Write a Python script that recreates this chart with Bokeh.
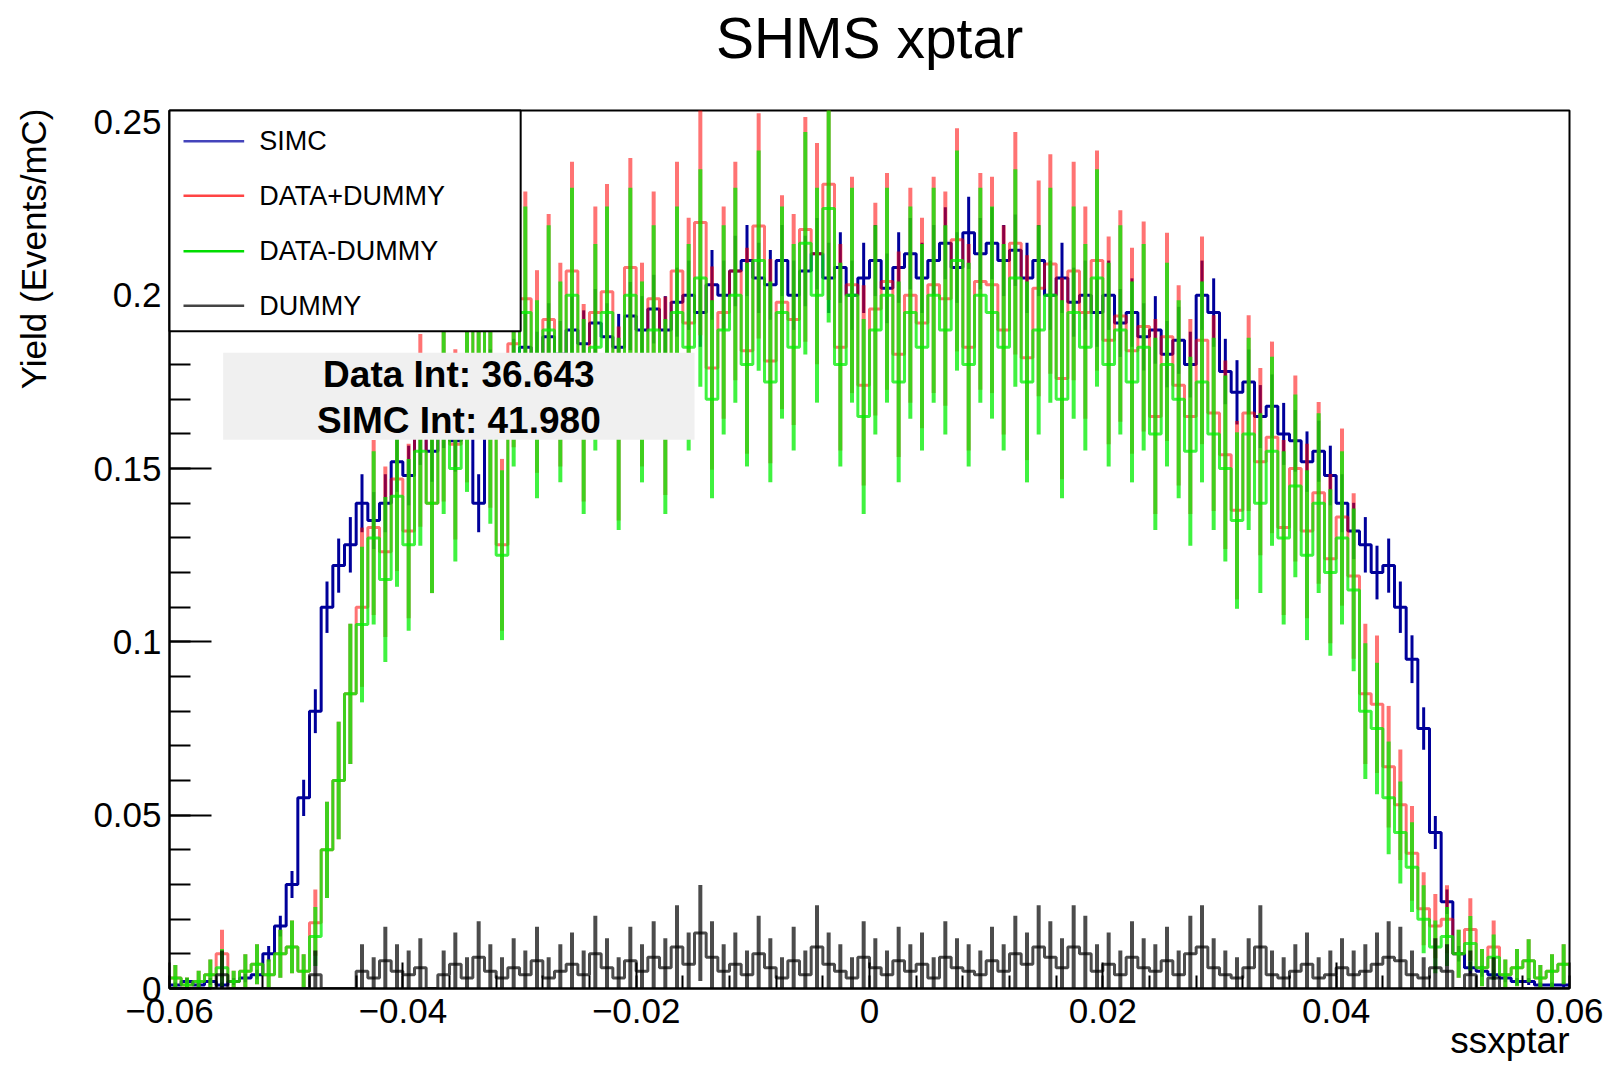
import numpy as np
from bokeh.plotting import figure
from bokeh.layouts import column, row
from bokeh.models import CustomJSTickFormatter, Range1d, FixedTicker, Title
from bokeh.embed import file_html
from bokeh.resources import INLINE
from bokeh.core.properties import value

FONT = "Liberation Sans"

# ---------------- data (bin width 0.001) ----------------
x_lo, x_hi, n_bins = -0.06, 0.06, 120

simc = [0.001, 0.002, 0.001, 0.002, 0.001, 0.002, 0.003, 0.004, 0.010, 0.018,
        0.030, 0.055, 0.080, 0.110, 0.122, 0.128, 0.140, 0.135, 0.140, 0.152,
        0.148, 0.160, 0.155, 0.165, 0.158, 0.170, 0.140, 0.175, 0.172, 0.178,
        0.185, 0.180, 0.188, 0.183, 0.190, 0.186, 0.192, 0.188, 0.185, 0.194,
        0.190, 0.196, 0.190, 0.198, 0.200, 0.195, 0.203, 0.200, 0.207, 0.210,
        0.205, 0.203, 0.210, 0.200, 0.207, 0.212, 0.205, 0.208, 0.200, 0.205,
        0.210, 0.202, 0.208, 0.212, 0.205, 0.210, 0.215, 0.208, 0.218, 0.212,
        0.215, 0.210, 0.213, 0.205, 0.210, 0.200, 0.205, 0.198, 0.200, 0.195,
        0.200, 0.192, 0.195, 0.188, 0.190, 0.183, 0.187, 0.180, 0.200, 0.195,
        0.178, 0.172, 0.175, 0.165, 0.168, 0.160, 0.158, 0.152, 0.155, 0.148,
        0.140, 0.132, 0.128, 0.120, 0.122, 0.110, 0.095, 0.075, 0.045, 0.025,
        0.010, 0.006, 0.005, 0.004, 0.003, 0.002, 0.002, 0.001, 0.001, 0.001]

data_minus_dummy = [0.003, 0.001, 0.002, 0.004, 0.006, 0.002, 0.005, 0.007, 0.004, 0.010,
                    0.012, 0.005, 0.015, 0.040, 0.060, 0.085, 0.105, 0.130, 0.118, 0.142,
                    0.128, 0.155, 0.140, 0.165, 0.150, 0.172, 0.190, 0.162, 0.125, 0.180,
                    0.195, 0.170, 0.190, 0.175, 0.200, 0.165, 0.185, 0.195, 0.160, 0.200,
                    0.175, 0.190, 0.165, 0.195, 0.185, 0.205, 0.170, 0.190, 0.200, 0.180,
                    0.210, 0.175, 0.195, 0.185, 0.215, 0.200, 0.225, 0.180, 0.200, 0.165,
                    0.190, 0.200, 0.175, 0.195, 0.185, 0.200, 0.190, 0.210, 0.180, 0.200,
                    0.195, 0.185, 0.205, 0.175, 0.190, 0.200, 0.170, 0.195, 0.185, 0.205,
                    0.180, 0.190, 0.175, 0.185, 0.160, 0.180, 0.170, 0.155, 0.175, 0.160,
                    0.150, 0.135, 0.160, 0.140, 0.155, 0.130, 0.145, 0.125, 0.140, 0.120,
                    0.130, 0.115, 0.080, 0.075, 0.055, 0.045, 0.035, 0.020, 0.012, 0.015,
                    0.010, 0.013, 0.006, 0.009, 0.004, 0.006, 0.008, 0.003, 0.005, 0.007]

data_plus_dummy = [0.003, 0.001, 0.002, 0.004, 0.010, 0.002, 0.005, 0.007, 0.004, 0.010,
                   0.012, 0.005, 0.019, 0.040, 0.060, 0.085, 0.110, 0.133, 0.126, 0.147,
                   0.132, 0.161, 0.140, 0.169, 0.157, 0.175, 0.199, 0.167, 0.128, 0.186,
                   0.199, 0.178, 0.193, 0.180, 0.207, 0.169, 0.195, 0.201, 0.163, 0.208,
                   0.180, 0.199, 0.171, 0.207, 0.192, 0.221, 0.179, 0.195, 0.207, 0.184,
                   0.220, 0.181, 0.198, 0.193, 0.219, 0.212, 0.232, 0.185, 0.203, 0.174,
                   0.196, 0.204, 0.183, 0.200, 0.192, 0.203, 0.199, 0.216, 0.185, 0.204,
                   0.203, 0.190, 0.215, 0.182, 0.202, 0.209, 0.176, 0.207, 0.195, 0.210,
                   0.187, 0.194, 0.184, 0.191, 0.165, 0.188, 0.174, 0.165, 0.187, 0.166,
                   0.154, 0.138, 0.166, 0.152, 0.159, 0.133, 0.150, 0.132, 0.143, 0.124,
                   0.136, 0.119, 0.085, 0.082, 0.064, 0.053, 0.039, 0.023, 0.018, 0.020,
                   0.010, 0.017, 0.006, 0.012, 0.004, 0.006, 0.008, 0.003, 0.005, 0.007]

dummy = [0.000, 0.000, 0.000, 0.000, 0.004, 0.000, 0.000, 0.000, 0.000, 0.000,
         0.000, 0.000, 0.004, 0.000, 0.000, 0.000, 0.005, 0.003, 0.008, 0.005,
         0.004, 0.006, 0.000, 0.004, 0.007, 0.003, 0.009, 0.005, 0.003, 0.006,
         0.004, 0.008, 0.003, 0.005, 0.007, 0.004, 0.010, 0.006, 0.003, 0.008,
         0.005, 0.009, 0.006, 0.012, 0.007, 0.016, 0.009, 0.005, 0.007, 0.004,
         0.010, 0.006, 0.003, 0.008, 0.004, 0.012, 0.007, 0.005, 0.003, 0.009,
         0.006, 0.004, 0.008, 0.005, 0.007, 0.003, 0.009, 0.006, 0.005, 0.004,
         0.008, 0.005, 0.010, 0.007, 0.012, 0.009, 0.006, 0.012, 0.010, 0.005,
         0.007, 0.004, 0.009, 0.006, 0.005, 0.008, 0.004, 0.010, 0.012, 0.006,
         0.004, 0.003, 0.006, 0.012, 0.004, 0.003, 0.005, 0.007, 0.003, 0.004,
         0.006, 0.004, 0.005, 0.007, 0.009, 0.008, 0.004, 0.003, 0.006, 0.005,
         0.000, 0.004, 0.000, 0.003, 0.000, 0.000, 0.000, 0.000, 0.000, 0.000]

legend_labels = ["SIMC", "DATA+DUMMY", "DATA-DUMMY", "DUMMY"]
stat_lines = ["Data Int: 36.643", "SIMC Int: 41.980"]
x_ticks = [-0.06, -0.04, -0.02, 0.0, 0.02, 0.04, 0.06]
y_ticks = [0.0, 0.05, 0.10, 0.15, 0.20, 0.25]

# ---------------- page geometry ----------------
W, H = 1608, 1067
TOP_H = 100          # strip holding the chart title
LEFT_W = 60          # strip holding the y-axis title
MAIN_W, MAIN_H = W - LEFT_W, H - TOP_H


def bare(fig):
    fig.grid.visible = False
    fig.outline_line_color = None
    fig.background_fill_color = "white"
    fig.border_fill_color = "white"


# title strip (pixel coordinates, y downwards)
tfig = figure(width=W, height=TOP_H, output_backend="svg", toolbar_location=None,
              x_range=Range1d(0, W), y_range=Range1d(TOP_H, 0), title=None,
              x_axis_type=None, y_axis_type=None, min_border=0)
bare(tfig)
tfig.text(x=[869], y=[37], text=["SHMS xptar"], text_font=value(FONT),
          text_font_size="57px", text_align="center", text_baseline="middle",
          text_color="black")

# y-axis title strip (right-aligned to the top end of the axis, reads upwards)
lfig = figure(width=LEFT_W, height=MAIN_H, output_backend="svg", toolbar_location=None,
              x_range=Range1d(0, LEFT_W), y_range=Range1d(MAIN_H, 0), title=None,
              x_axis_type=None, y_axis_type=None, min_border=0)
bare(lfig)
lfig.text(x=[33], y=[11], text=["Yield (Events/mC)"], text_font=value(FONT),
          text_font_size="35px", text_align="right", text_baseline="middle",
          angle=np.pi / 2, y_offset=-12, text_color="black")

# ---------------- main figure ----------------
edges = np.linspace(x_lo, x_hi, n_bins + 1)
centers = 0.5 * (edges[:-1] + edges[1:])

Y_MAX = 0.2533
p = figure(width=MAIN_W, height=MAIN_H, output_backend="svg", toolbar_location=None,
           x_range=Range1d(x_lo, x_hi), y_range=Range1d(0, Y_MAX),
           min_border_left=169 - LEFT_W, min_border_right=39, min_border_top=110 - TOP_H,
           min_border_bottom=79)
p.grid.visible = False
p.background_fill_color = "white"
p.border_fill_color = "white"
p.outline_line_color = "black"
p.outline_line_width = 2


def draw_hist(vals, k, color, alpha, lw_step, lw_err):
    y = np.array(vals, dtype=float)
    err = np.sqrt(y * k)
    p.step(edges, np.append(y, y[-1]), mode="after", line_color=color,
           line_alpha=alpha, line_width=lw_step)
    p.segment(centers, y - err, centers, y + err, line_color=color,
              line_alpha=alpha, line_width=lw_err)


draw_hist(simc, 0.0005, "#00009a", 1.0, 3, 3)
draw_hist(data_plus_dummy, 0.0048, "#ff0000", 0.55, 3, 4)
draw_hist(data_minus_dummy, 0.0048, "#00ee00", 0.75, 3, 4)
draw_hist(dummy, 0.012, "#000000", 0.7, 3, 4)

# ---------------- axes ----------------
fmt = CustomJSTickFormatter(code="const v = Math.round(tick*1000)/1000; return String(v).replace('-', '\u2212');")
xminor = [round(v, 4) for v in np.arange(-0.06, 0.0601, 0.004)]
yminor = [round(v, 3) for v in np.arange(0.0, 0.2501, 0.01)]
p.xaxis.ticker = FixedTicker(ticks=x_ticks, minor_ticks=xminor)
p.yaxis.ticker = FixedTicker(ticks=y_ticks, minor_ticks=yminor)
for ax in (p.xaxis, p.yaxis):
    ax.formatter = fmt
    ax.axis_line_color = "black"
    ax.axis_line_width = 2
    ax.major_tick_out = 0
    ax.minor_tick_out = 0
    ax.major_tick_line_color = "black"
    ax.minor_tick_line_color = "black"
    ax.major_tick_line_width = 2
    ax.minor_tick_line_width = 2
    ax.major_label_text_font = FONT
    ax.major_label_text_font_size = "35px"
    ax.major_label_text_color = "black"
p.xaxis.major_tick_in = 26
p.xaxis.minor_tick_in = 13
p.yaxis.major_tick_in = 42
p.yaxis.minor_tick_in = 21
p.xaxis.major_label_standoff = 10
p.yaxis.major_label_standoff = 8

# x-axis title at the right end of the axis (ROOT style)
p.add_layout(Title(text="ssxptar", align="right", text_font=FONT,
                   text_font_size="37px", text_font_style="normal",
                   text_color="black", standoff=-15), "below")

# ---------------- legend (drawn on top) ----------------
leg_colors = ["#4444bb", "#ff4444", "#00dd00", "#444444"]
leg_y = [0.2444, 0.2287, 0.2127, 0.1970]
r = p.quad(left=[x_lo], right=[-0.0299], bottom=[0.1896], top=[Y_MAX],
           fill_color="white", line_color="black", line_width=2)
r.level = "overlay"
r = p.segment(x0=[-0.0588] * 4, y0=leg_y, x1=[-0.0536] * 4, y1=leg_y,
              line_color=leg_colors, line_width=2.5)
r.level = "overlay"
r = p.text(x=[-0.0523] * 4, y=leg_y, text=legend_labels, text_font=value(FONT),
           text_font_size="27px", text_baseline="middle", text_align="left",
           text_color="black")
r.level = "overlay"

# ---------------- stat box ----------------
r = p.quad(left=[-0.0554], right=[-0.0150], bottom=[0.1583], top=[0.1834],
           fill_color="#f0f0f0", line_color=None)
r.level = "overlay"
r = p.text(x=[-0.0352, -0.0352], y=[0.1770, 0.1640], text=stat_lines,
           text_font=value(FONT), text_font_size="37px", text_font_style="bold",
           text_baseline="middle", text_align="center", text_color="black")
r.level = "overlay"

layout = column(tfig, row(lfig, p, spacing=0), spacing=0)
open("out.html", "w").write(file_html(layout, INLINE))
